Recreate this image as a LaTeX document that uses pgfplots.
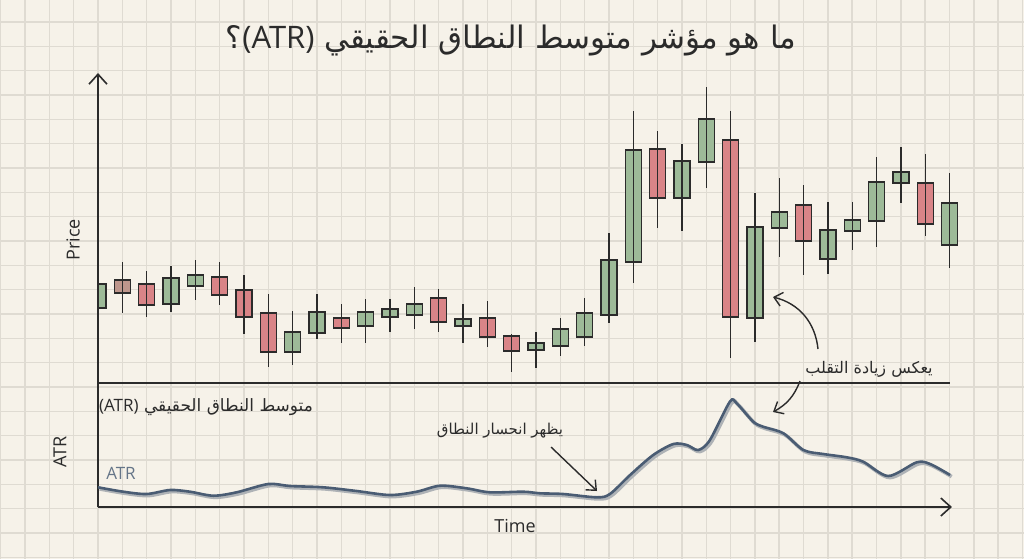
\documentclass[border=0pt]{standalone}
\usepackage{fontspec}
\setmainfont{Open Sans}
\newfontfamily\arabicfont[Script=Arabic]{DejaVu Sans}
\usepackage{pgfplots}
\usepackage{pgfplotstable}
\pgfplotsset{compat=1.18}
\usetikzlibrary{arrows.meta}
\TeXXeTstate=1

\definecolor{paper}{HTML}{F6F2E9}
\definecolor{gridc}{HTML}{DFDBD2}
\definecolor{ink}{HTML}{2B2B2B}
\definecolor{upc}{HTML}{9DBA98}
\definecolor{downc}{HTML}{D98487}
\definecolor{neutc}{HTML}{BE968C}
\definecolor{atrc}{HTML}{4A5C73}
\definecolor{atrshade}{HTML}{AEB2B6}

% candles: t = 1 up, -1 down, 0 muted
\pgfplotstableread{
i  o    h    l    c    t
0  7.5  10.5 6.9  9.9  1
1  10.3 12.1 7.0  9.0  0
2  9.9  11.2 6.6  7.8  -1
3  7.9  11.7 7.1  10.5 1
4  9.7  12.3 8.3  10.8 1
5  10.6 12.1 7.8  8.8  -1
6  9.3  10.8 4.9  6.6  -1
7  7.0  8.9  1.6  3.1  -1
8  3.1  7.2  1.8  5.1  1
9  5.0  8.9  4.4  7.1  1
10 6.5  7.9  4.0  5.5  -1
11 5.7  8.4  4.0  7.1  1
12 6.6  8.4  5.1  7.4  1
13 6.8  9.6  5.4  7.9  1
14 8.5  9.4  5.1  6.1  -1
15 5.7  7.9  4.0  6.4  1
16 6.5  8.2  3.6  4.6  -1
17 4.7  4.9  1.1  3.2  -1
18 3.3  5.1  1.5  4.0  1
19 3.7  6.5  2.7  5.4  1
20 4.6  8.5  3.7  7.0  1
21 6.8  15.0 6.0  12.3 1
22 12.1 27.2 10.0 23.3 1
23 23.4 25.2 15.5 18.5 -1
24 18.5 23.9 15.2 22.2 1
25 22.1 29.6 19.5 26.4 1
26 24.3 27.2 2.5  6.6  -1
27 6.5  19.0 4.1  15.6 1
28 15.5 20.5 12.6 17.1 1
29 17.8 19.8 10.8 14.2 -1
30 12.4 18.1 10.9 15.3 1
31 15.2 18.1 13.3 16.3 1
32 16.2 22.6 13.6 20.1 1
33 20.0 23.6 18.0 21.1 1
34 20.0 22.9 14.7 15.9 -1
35 13.8 21.0 11.5 18.0 1
}\candles

\pgfplotstableread{
x     atr
0     1.97
1.04  1.53
2.0   1.30
2.96  1.70
3.78  1.53
4.74  1.13
5.7   1.47
7.0   2.30
7.89  2.10
9.26  1.97
10.63 1.60
12.0  1.20
13.1  1.53
14.06 2.13
15.15 1.87
16.11 1.47
17.48 1.53
18.17 1.37
19.12 1.30
20.5  0.97
21.04 1.30
21.87 3.20
22.82 5.20
23.65 6.30
24.2  6.20
24.67 5.70
25.15 6.70
25.97 10.53
26.25 10.37
26.93 8.53
27.34 8.03
28.17 7.37
28.99 5.70
29.81 5.30
30.77 4.97
31.45 4.53
32.48 3.10
33.65 4.47
34.2  4.30
35.02 3.20
}\atrdata

\begin{document}
\begin{tikzpicture}
% graph paper (1 unit = 1 px of the reference)
\begin{scope}[x=0.5pt,y=-0.5pt]
\path[use as bounding box, fill=paper] (0,0) rectangle (1024,559);
\foreach \k in {-4,...,38}
  \draw[gridc, line width=0.75pt] ({98+24.33*\k},0) -- ++(0,559);
\foreach \k in {-2,...,20}
  \draw[gridc, line width=0.75pt] (0,{70.7+24.33*\k}) -- ++(1024,0);
\end{scope}

% price panel
\begin{axis}[
  at={(49pt,-191.5pt)}, anchor=south west,
  x=12.165pt, y=5pt,
  xmin=0, xmax=36, ymin=0, ymax=31,
  axis x line=none, axis y line=left,
  y axis line style={ink, line width=0.8pt, -{Straight Barb[length=5pt,width=9pt]}},
  ticks=none, clip=true,
  ybar stacked, bar width=8pt,
  ]
  \addplot[draw=none, fill=none,
    error bars/.cd, y dir=both, y explicit, error mark=none,
    error bar style={draw=ink, line width=0.7pt}]
    table[x=i, y expr={min(\thisrow{o},\thisrow{c})},
      y error plus expr={\thisrow{h}-min(\thisrow{o},\thisrow{c})},
      y error minus expr={min(\thisrow{o},\thisrow{c})-\thisrow{l}}] {\candles};
  \addplot[fill=upc, draw=ink, line width=0.7pt]
    table[x=i, y expr={\thisrow{t}==1 ? abs(\thisrow{c}-\thisrow{o}) : 0}] {\candles};
  \addplot[fill=downc, draw=ink, line width=0.7pt]
    table[x=i, y expr={\thisrow{t}==-1 ? abs(\thisrow{c}-\thisrow{o}) : 0}] {\candles};
  \addplot[fill=neutc, draw=ink, line width=0.7pt]
    table[x=i, y expr={\thisrow{t}==0 ? abs(\thisrow{c}-\thisrow{o}) : 0}] {\candles};
  \draw[ink, line width=0.8pt] (axis cs:0,0) -- (axis cs:35,0);
\end{axis}

% ATR panel
\begin{axis}[
  at={(49pt,-253.5pt)}, anchor=south west,
  x=12.165pt, y=5pt,
  xmin=0, xmax=35.1, ymin=0, ymax=12.4,
  axis x line=bottom, axis y line=left,
  x axis line style={ink, line width=0.8pt, -{Straight Barb[length=5pt,width=9pt]}},
  y axis line style={ink, line width=0.8pt, -},
  ticks=none, clip=false,
  ]
  \addplot[atrshade, line width=1.8pt, smooth, tension=0.5, xshift=0.8pt, yshift=-0.8pt]
    table[x=x, y=atr] {\atrdata};
  \addplot[atrc, line width=1.3pt, smooth, tension=0.5]
    table[x=x, y=atr] {\atrdata};
\end{axis}

\begin{scope}[x=0.5pt,y=-0.5pt]
% texts
\node[font=\arabicfont\fontsize{15.5pt}{18pt}\selectfont, ink] at (511,40)
  {\beginR ما هو مؤشر متوسط النطاق الحقيقي \beginL{\normalfont(ATR)}\endL؟\endR};
\node[font=\arabicfont\fontsize{8.5pt}{10pt}\selectfont, ink] at (206,407)
  {\beginR متوسط النطاق الحقيقي \beginL{\normalfont(ATR)}\endL\endR};
\node[font=\arabicfont\fontsize{7.5pt}{9pt}\selectfont, ink] at (500,431)
  {\beginR يظهر انحسار النطاق\endR};
\node[font=\arabicfont\fontsize{8pt}{10pt}\selectfont, ink] at (869,369)
  {\beginR يعكس زيادة التقلب\endR};
\node[font=\fontsize{9pt}{11pt}\selectfont, ink, rotate=90] at (73,240) {Price};
\node[font=\fontsize{9pt}{11pt}\selectfont, ink, rotate=90] at (60,452) {ATR};
\node[font=\fontsize{9pt}{11pt}\selectfont, ink] at (515,526) {Time};
\node[font=\fontsize{8.5pt}{10pt}\selectfont, atrc!85] at (121,473) {ATR};

% annotation arrows
\draw[ink, line width=0.7pt, -{Straight Barb[length=4pt,width=7pt]}]
  (818,349) to[bend right=35] (773,297);
\draw[ink, line width=0.7pt, -{Straight Barb[length=4pt,width=7pt]}]
  (800,381) to[bend left=20] (773,412);
\draw[ink, line width=0.7pt, -{Straight Barb[length=4pt,width=7pt]}]
  (551,447) -- (597,491);
\end{scope}
\end{tikzpicture}
\end{document}
